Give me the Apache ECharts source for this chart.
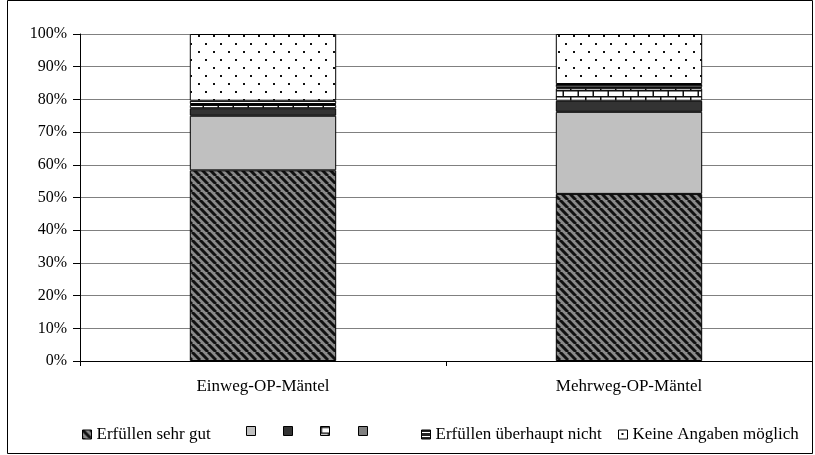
<!DOCTYPE html>
<html>
<head>
<meta charset="utf-8">
<script src="https://cdn.jsdelivr.net/npm/echarts@6/dist/echarts.min.js"></script>
<style>
html,body{margin:0;padding:0;background:#fff;}
#chart{width:815px;height:455px;}
</style>
</head>
<body>
<div id="chart"></div>
<script>
// ---- data ----
const categories = ['Einweg-OP-Mäntel', 'Mehrweg-OP-Mäntel'];
const seriesNames = ['Erfüllen sehr gut', 's2', 's3', 's4', 's5', 'Erfüllen überhaupt nicht', 'Keine Angaben möglich'];
const seriesLabels = ['Erfüllen sehr gut', '', '', '', '', 'Erfüllen überhaupt nicht', 'Keine Angaben möglich'];
const sehrGut = [58.3, 51.1];
const s2 = [16.7, 25.1];
const s3 = [2.3, 3.4];
const s4 = [1.0, 3.8];
const s5 = [0.3, 0.3];
const ueberhauptNicht = [1.0, 1.0];
const keineAngaben = [20.4, 15.3];
const yTicks = ['0%','10%','20%','30%','40%','50%','60%','70%','80%','90%','100%'];
const seriesValues = [sehrGut, s2, s3, s4, s5, ueberhauptNicht, keineAngaben];

// ---- patterns ----
function mk(w, h, draw) {
  const c = document.createElement('canvas');
  c.width = w; c.height = h;
  const ctx = c.getContext('2d');
  draw(ctx, w, h);
  return { image: c, repeat: 'repeat' };
}
const hatch = mk(8, 8, (ctx, w, h) => {
  ctx.fillStyle = '#8a8a8a'; ctx.fillRect(0, 0, w, h);
  ctx.strokeStyle = '#111'; ctx.lineWidth = 3;
  for (const k of [-8, 0, 8]) {
    ctx.beginPath(); ctx.moveTo(k, 0); ctx.lineTo(k + 8, 8); ctx.stroke();
  }
});
const dots = mk(15, 16, (ctx, w, h) => {
  ctx.fillStyle = '#fff'; ctx.fillRect(0, 0, w, h);
  ctx.fillStyle = '#111';
  ctx.fillRect(3, 3, 2, 2);
  ctx.fillRect(10, 11, 2, 2);
});
const brick = mk(15, 12, (ctx, w, h) => {
  ctx.fillStyle = '#fff'; ctx.fillRect(0, 0, w, h);
  ctx.fillStyle = '#111';
  ctx.fillRect(0, 0, w, 1.5);
  ctx.fillRect(0, 6, w, 1.5);
  ctx.fillRect(0, 0, 1.5, 6);
  ctx.fillRect(7.5, 6, 1.5, 6);
});
const hlines = mk(4, 4, (ctx, w, h) => {
  ctx.fillStyle = '#222'; ctx.fillRect(0, 0, w, h);
  ctx.fillStyle = '#fff'; ctx.fillRect(0, 2, w, 1);
});
const fills = [hatch, '#c0c0c0', '#333333', brick, '#808080', hlines, dots];

const font = 'Liberation Serif';
const legendLeft = [82, 246, 283, 320, 358, 421, 618];

const chart = echarts.init(document.getElementById('chart'), null, { renderer: 'canvas' });
chart.setOption({
  backgroundColor: '#fff',
  animation: false,
  textStyle: { fontFamily: font, color: '#000' },
  grid: { left: 80, right: 3, top: 34, bottom: 94 },
  graphic: [{
    type: 'rect', shape: { x: 7.5, y: 0.5, width: 805, height: 453 },
    style: { fill: 'none', stroke: '#000', lineWidth: 1 }, silent: true, z: 100
  }],
  legend: seriesNames.map((n, i) => ({
    data: [n], left: legendLeft[i], top: 426, icon: 'rect', padding: 0,
    itemWidth: 9, itemHeight: 9, itemGap: 0,
    formatter: () => seriesLabels[i],
    textStyle: { fontFamily: font, fontSize: 17, color: '#000', padding: [0, 0, 0, 0] },
    itemStyle: { borderColor: '#000', borderWidth: 1 }
  })),
  xAxis: {
    type: 'category', data: categories,
    axisLine: { lineStyle: { color: '#000' } },
    axisTick: { show: true, length: 5, lineStyle: { color: '#000' } },
    axisLabel: { fontFamily: font, fontSize: 17, color: '#000', margin: 17 }
  },
  yAxis: {
    type: 'value', min: 0, max: 100, interval: 10,
    axisLine: { show: true, lineStyle: { color: '#000' } },
    axisTick: { show: true, length: 7, inside: false, lineStyle: { color: '#000' } },
    axisLabel: { fontFamily: font, fontSize: 16, color: '#000', margin: 13,
      formatter: (v) => yTicks[Math.round(v / 10)] },
    splitLine: { lineStyle: { color: '#808080', width: 1 } }
  },
  series: seriesNames.map((n, i) => ({
    name: n, type: 'bar', stack: 'total', barWidth: '40%',
    data: seriesValues[i],
    itemStyle: { color: fills[i], borderColor: '#000', borderWidth: 1 }
  }))
});
</script>
</body>
</html>
